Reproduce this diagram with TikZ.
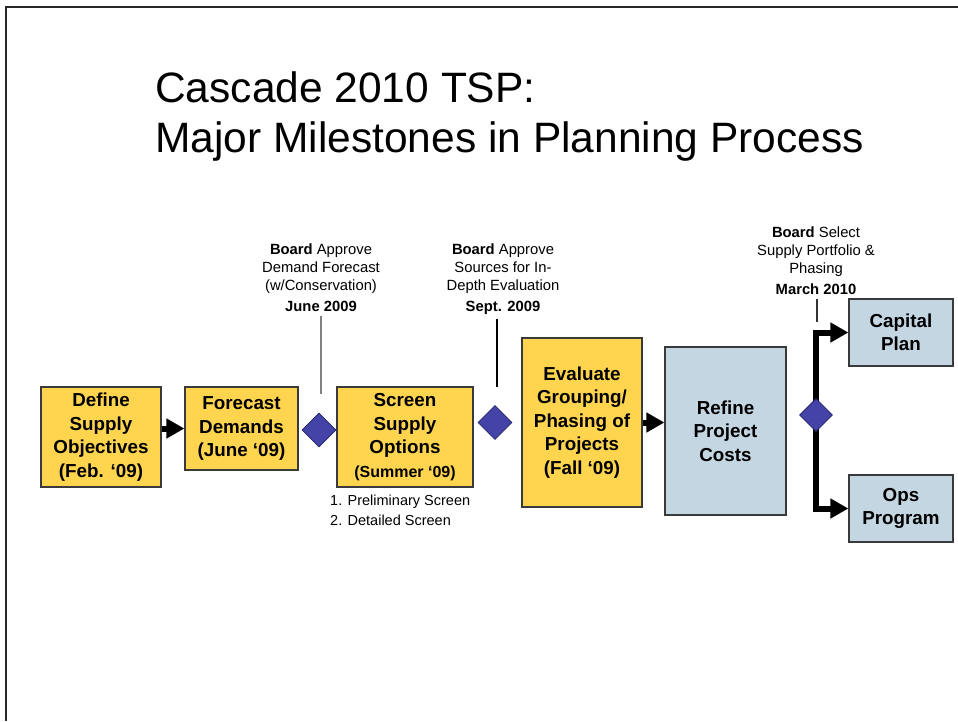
\documentclass[tikz,border=0pt]{standalone}
\usepackage{fontspec}
\setmainfont{Liberation Sans}
\usetikzlibrary{shapes.geometric,arrows.meta,backgrounds}
\definecolor{boxyellow}{HTML}{FFD54F}
\definecolor{boxblue}{HTML}{C5D6E3}
\definecolor{dia}{HTML}{4343A8}
\definecolor{diaborder}{HTML}{24246A}
\definecolor{edge}{HTML}{3A3A3A}
\begin{document}
\begin{tikzpicture}[x=1pt,y=-1pt,
 stepbox/.style={draw=edge, line width=1.2pt, align=center, inner sep=0pt, font=\bfseries\fontsize{18.8}{23.5}\selectfont, text=black},
 ybox/.style={stepbox, fill=boxyellow},
 bbox/.style={stepbox, fill=boxblue},
 gate/.style={diamond, draw=diaborder, fill=dia, line width=0.8pt, minimum width=34pt, minimum height=34pt, inner sep=0pt},
 bigarrow/.style={line width=6pt, -{Triangle[length=18pt,width=19pt]}},
 note/.style={align=center, font=\fontsize{14.8}{17.8}\selectfont, inner xsep=0pt, inner ysep=4pt},
 tick/.style={line width=1.3pt}]
\useasboundingbox (0,0) rectangle (958,721);
% frame
\draw[line width=2pt, draw=black!85] (6,721) -- (6,6.5) -- (958,6.5);
% title
\node[anchor=base west, inner sep=0pt, font=\fontsize{42.5}{50}\selectfont] (title1) at (155,102) {Cascade 2010 TSP:};
\node[anchor=base west, inner sep=0pt, font=\fontsize{42.5}{50}\selectfont] (title2) at (155,152) {Major Milestones in Planning Process};
% boxes
\node[ybox, minimum width=120pt, minimum height=100pt] (b1) at (101,437) {Define\\Supply\\Objectives\\(Feb. ‘09)};
\node[ybox, minimum width=113pt, minimum height=83pt] (b2) at (241.5,428.5) {Forecast\\Demands\\(June ‘09)};
\node[gate] (d1) at (319,430) {};
\node[ybox, minimum width=136pt, minimum height=100pt] (b3) at (405,437) {Screen\\Supply\\Options\\{\fontsize{16}{20}\selectfont(Summer ‘09)}};
\node[gate] (d2) at (495,422.5) {};
\node[ybox, minimum width=120pt, minimum height=169pt] (b4) at (582,422.5) {Evaluate\\Grouping/\\Phasing of\\Projects\\(Fall ‘09)};
\node[bbox, minimum width=121pt, minimum height=168pt] (b5) at (725.5,431) {Refine\\Project\\Costs};
\node[gate, minimum width=33pt, minimum height=33pt] (d3) at (816,415) {};
\node[bbox, minimum width=104pt, minimum height=67pt] (cap) at (901,332.5) {Capital\\Plan};
\node[bbox, minimum width=104pt, minimum height=67pt] (ops) at (901,508.5) {Ops\\Program};
% arrows
\draw[bigarrow] (b1.east |- b2.west) -- (b2.west);
\draw[bigarrow] (b4.east) -- (b4.east -| b5.west);
\begin{pgfonlayer}{background}
\draw[bigarrow] (d3.center) |- (cap.west);
\draw[bigarrow] (d3.center) |- (ops.west);
\end{pgfonlayer}
% milestone notes
\node[note, anchor=north] (n1) at (321,240) {\textbf{Board} Approve\\Demand Forecast\\(w/Conservation)\\[3pt]\textbf{June 2009}};
\coordinate (t1) at (321,394);
\draw[tick, draw=gray] (n1.south) -- (t1);
\node[note, anchor=north] (n2) at (503,240) {\textbf{Board} Approve\\Sources for In-\\Depth Evaluation\\[3pt]\textbf{Sept. 2009}};
\coordinate (t2) at (497,387);
\draw[tick, draw=black] (t2 |- n2.south) -- (t2);
\node[note, anchor=north] (n3) at (816,223) {\textbf{Board} Select\\Supply Portfolio \&\\Phasing\\[3pt]\textbf{March 2010}};
\coordinate (t3) at (817,322);
\draw[tick, draw=black!80] (t3 |- n3.south) -- (t3);
% list
\node[anchor=north west, align=left, inner sep=0pt, font=\fontsize{14.5}{20}\selectfont] (lst) at (330,495) {1. Preliminary Screen\\2. Detailed Screen};
\end{tikzpicture}
\end{document}
